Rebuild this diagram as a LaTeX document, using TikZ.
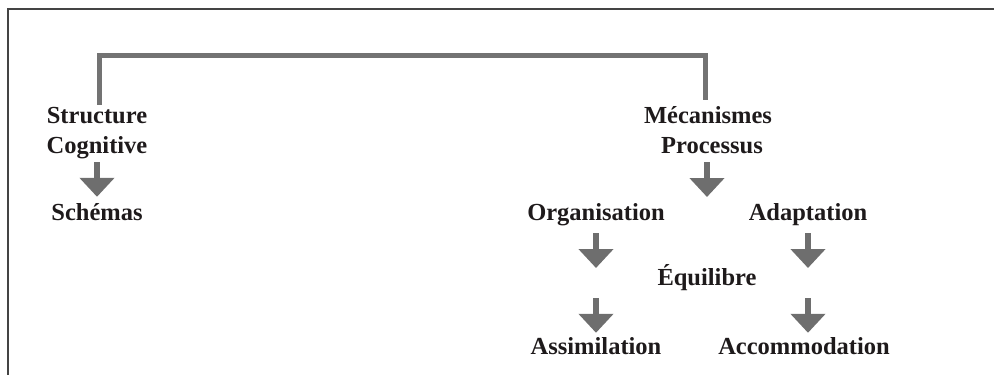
\documentclass[tikz,border=0pt]{standalone}
\usepackage{fontspec}
\setmainfont{Liberation Serif}
\usetikzlibrary{arrows.meta}
\definecolor{inkc}{HTML}{1E1A1B}
\definecolor{framec}{HTML}{444444}
\definecolor{arrowc}{HTML}{6E6E6E}
\definecolor{bracketc}{HTML}{737373}
\tikzset{
  term/.style={anchor=base, inner sep=0pt, text height=15pt, text depth=5pt,
    text=inkc, font=\fontsize{24.5}{28}\selectfont\bfseries},
  fatarrow/.style={draw=arrowc, line width=6pt,
    -{Triangle[width=34pt,length=19pt]}, arrowc},
  bracket/.style={draw=bracketc, line width=5pt},
  frameline/.style={draw=framec, line width=2pt}
}
\begin{document}
\begin{tikzpicture}[x=1pt,y=-1pt]
\useasboundingbox (0,0) rectangle (994,375);

% open frame: left and top borders
\draw[frameline] (8.3,375) -- (8.3,9.3) -- (994,9.3);

% left column
\node[term] (structure) at (97,123) {Structure};
\node[term] (cognitive) at (97,153) {Cognitive};
\node[term] (schemas)   at (97,220) {Schémas};

% right column
\node[term] (mecanismes)    at (708,123) {Mécanismes};
\node[term] (processus)     at (712,153) {Processus};
\node[term] (organisation)  at (596,220) {Organisation};
\node[term] (adaptation)    at (808,220) {Adaptation};
\node[term] (equilibre)     at (707,285) {Équilibre};
\node[term] (assimilation)  at (596,354) {Assimilation};
\node[term] (accommodation) at (804,354) {Accommodation};

% free ends of the arrows
\coordinate (proctip) at (707,197);
\coordinate (orgmid)  at (596,283);
\coordinate (adamid)  at (808,283);

% bracket joining the two columns
\draw[bracket] (structure.north -| 99,0) ++(0,-3) -- (99,55) -- (705,55)
  -- (705,100);

% arrows
\draw[fatarrow] ([yshift=-4pt]cognitive.south -| 97,0) -- ([yshift=8pt]schemas.north -| 97,0);
\draw[fatarrow] ([yshift=-4pt]processus.south -| 707,0) -- (proctip);
\draw[fatarrow] ([yshift=-8pt]organisation.south) -- ([yshift=15pt]orgmid);
\draw[fatarrow] ([yshift=-15pt]orgmid) -- ([yshift=6pt]assimilation.north);
\draw[fatarrow] ([yshift=-8pt]adaptation.south) -- ([yshift=15pt]adamid);
\draw[fatarrow] ([yshift=-15pt]adamid) -- ([yshift=6pt]accommodation.north -| adamid);
\end{tikzpicture}
\end{document}
